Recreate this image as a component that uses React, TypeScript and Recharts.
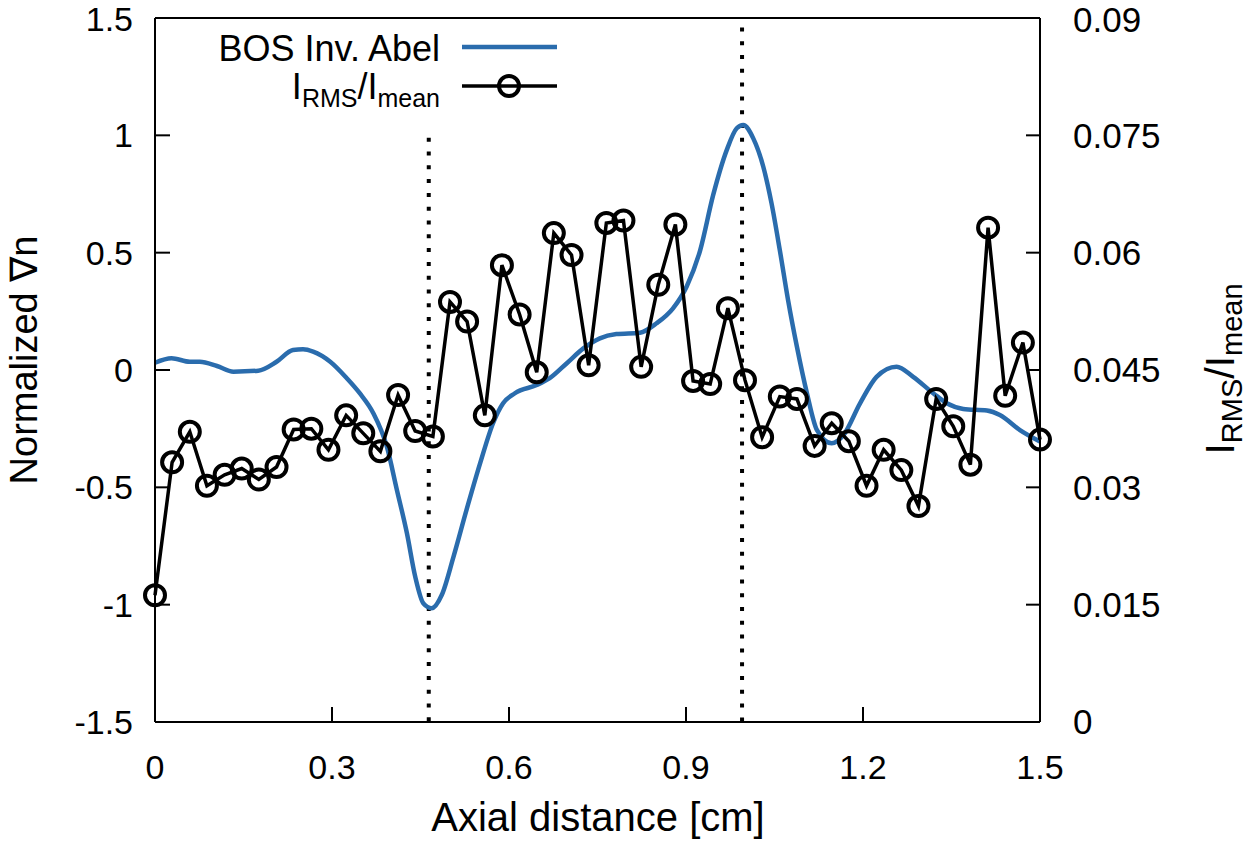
import { LineChart, Line, XAxis, YAxis, ReferenceLine } from "recharts";

const FONT = '"Liberation Sans", Arial, Helvetica, sans-serif';
const BLUE = "#2a6cad";
const W = 1251;
const H = 843;

// axis ticks
const X_TICKS = [0, 0.3, 0.6, 0.9, 1.2, 1.5];
const LEFT_TICKS = [-1.5, -1, -0.5, 0, 0.5, 1, 1.5];
const RIGHT_TICKS = [0, 0.015, 0.03, 0.045, 0.06, 0.075, 0.09];

// BOS inverse Abel profile (normalized gradient)
const BOS_X = [
  0, 0.028, 0.059, 0.076, 0.105, 0.133, 0.175, 0.206, 0.234, 0.251, 0.268,
  0.297, 0.325, 0.347, 0.37, 0.393, 0.41, 0.427, 0.441, 0.455, 0.469, 0.486,
  0.506, 0.528, 0.551, 0.573, 0.59, 0.61, 0.647, 0.669, 0.698, 0.726, 0.754,
  0.782, 0.822, 0.85, 0.878, 0.901, 0.924, 0.946, 0.969, 0.986, 0.997, 1.014,
  1.031, 1.045, 1.059, 1.073, 1.088, 1.105, 1.122, 1.147, 1.167, 1.195, 1.223,
  1.257, 1.285, 1.319, 1.342, 1.37, 1.41, 1.432, 1.466, 1.5,
];
const BOS_Y = [
  0.031, 0.05, 0.035, 0.035, 0.017, -0.007, -0.003, 0.035, 0.085, 0.088, 0.078,
  0.035, -0.035, -0.099, -0.184, -0.327, -0.511, -0.696, -0.88, -0.995, -1.015,
  -0.959, -0.795, -0.596, -0.398, -0.227, -0.142, -0.099, -0.064, -0.035, 0.029,
  0.092, 0.135, 0.153, 0.159, 0.199, 0.263, 0.355, 0.51, 0.745, 0.937, 1.03,
  1.044, 0.987, 0.866, 0.71, 0.511, 0.298, 0.099, -0.099, -0.256, -0.312,
  -0.277, -0.142, -0.029, 0.014, -0.029, -0.099, -0.142, -0.166, -0.173, -0.192,
  -0.256, -0.305,
];

// intensity fluctuation I_RMS / I_mean
const IRMS_X = [
  0, 0.029, 0.059, 0.088, 0.118, 0.147, 0.176, 0.206, 0.235, 0.265, 0.294,
  0.324, 0.353, 0.382, 0.412, 0.441, 0.471, 0.5, 0.529, 0.559, 0.588, 0.618,
  0.647, 0.676, 0.706, 0.735, 0.765, 0.794, 0.824, 0.853, 0.882, 0.912, 0.941,
  0.971, 1.0, 1.029, 1.059, 1.088, 1.118, 1.147, 1.176, 1.206, 1.235, 1.265,
  1.294, 1.324, 1.353, 1.382, 1.412, 1.441, 1.471, 1.5,
];
const IRMS_Y = [
  0.0162, 0.0332, 0.0371, 0.0302, 0.0316, 0.0324, 0.031, 0.0326, 0.0374, 0.0375,
  0.0348, 0.0392, 0.0369, 0.0346, 0.0418, 0.0372, 0.0365, 0.0537, 0.0512,
  0.0392, 0.0584, 0.0521, 0.0447, 0.0625, 0.0597, 0.0456, 0.0638, 0.0641,
  0.0454, 0.0559, 0.0636, 0.0436, 0.0432, 0.0529, 0.0437, 0.0364, 0.0416,
  0.0413, 0.0353, 0.0382, 0.0359, 0.0302, 0.0348, 0.0322, 0.0276, 0.0413,
  0.0378, 0.0329, 0.0632, 0.0417, 0.0485, 0.0361,
];

// vertical markers: [x, top y, bottom y] on the left scale
const MARKERS = [
  [0.464, 0.99, -1.5],
  [0.995, 1.46, -1.5],
];

const bosData = BOS_X.map((x, i) => ({ x, y: BOS_Y[i] }));
const irmsData = IRMS_X.map((x, i) => ({ x, y: IRMS_Y[i] }));

const AXIS = { stroke: "#000", strokeWidth: 2 };
const tickStyle = (size: number) => ({ fontSize: size, fill: "#000", fontFamily: FONT });

const BottomTitle = () => (
  <text x={598} y={831} textAnchor="middle" fontSize={40} fontFamily={FONT} fill="#000">
    Axial distance [cm]
  </text>
);

const LeftTitle = () => (
  <text
    transform="translate(37,360) rotate(-90)"
    textAnchor="middle"
    fontSize={38}
    fontFamily={FONT}
    fill="#000"
  >
    Normalized ∇n
  </text>
);

const RightTitle = () => (
  <text
    transform="translate(1234,369) rotate(-90)"
    textAnchor="middle"
    fontSize={41}
    fontFamily={FONT}
    fill="#000"
  >
    <tspan>I</tspan>
    <tspan fontSize={29} dy={8}>RMS</tspan>
    <tspan dy={-8}>/I</tspan>
    <tspan fontSize={29} dy={8}>mean</tspan>
  </text>
);

function LegendBox() {
  return (
    <svg
      width={W}
      height={H}
      style={{ position: "absolute", left: 0, top: 0, pointerEvents: "none" }}
    >
      <g fontFamily={FONT} fill="#000" fontSize={36} textAnchor="end">
        <text x={440} y={61}>BOS Inv. Abel</text>
        <text x={440} y={99}>
          <tspan>I</tspan>
          <tspan fontSize={25} dy={8}>RMS</tspan>
          <tspan dy={-8}>/I</tspan>
          <tspan fontSize={25} dy={8}>mean</tspan>
        </text>
      </g>
      <line x1={462} x2={557} y1={47} y2={47} stroke={BLUE} strokeWidth={4.5} />
      <line x1={462} x2={557} y1={86} y2={86} stroke="#000" strokeWidth={3.5} />
      <circle cx={509} cy={86} r={10} fill="none" stroke="#000" strokeWidth={4} />
    </svg>
  );
}

export default function App() {
  return (
    <div style={{ position: "absolute", left: 0, top: 0, width: W, height: H, background: "#fff" }}>
      <LineChart width={W} height={H} margin={{ top: 0, right: 0, bottom: 0, left: 0 }}>
        <XAxis
          xAxisId="bottom"
          type="number"
          dataKey="x"
          domain={[0, 1.5]}
          ticks={X_TICKS}
          height={121}
          tickSize={-15}
          tickMargin={48}
          axisLine={AXIS}
          tickLine={AXIS}
          tick={tickStyle(34)}
          label={<BottomTitle />}
        />
        <XAxis
          xAxisId="top"
          orientation="top"
          type="number"
          dataKey="x"
          domain={[0, 1.5]}
          ticks={X_TICKS}
          height={18}
          tickSize={-15}
          axisLine={AXIS}
          tickLine={AXIS}
          tickFormatter={() => ""}
        />
        <YAxis
          yAxisId="left"
          type="number"
          domain={[-1.5, 1.5]}
          ticks={LEFT_TICKS}
          width={155}
          tickSize={-15}
          tickMargin={37}
          axisLine={AXIS}
          tickLine={AXIS}
          tick={tickStyle(34)}
          label={<LeftTitle />}
        />
        <YAxis
          yAxisId="right"
          orientation="right"
          type="number"
          domain={[0, 0.09]}
          ticks={RIGHT_TICKS}
          width={211}
          tickSize={-14}
          tickMargin={47}
          axisLine={AXIS}
          tickLine={AXIS}
          tick={tickStyle(35)}
          label={<RightTitle />}
        />
        {MARKERS.map(([x, top, bottom]) => (
          <ReferenceLine
            key={x}
            xAxisId="bottom"
            yAxisId="left"
            segment={[
              { x, y: top },
              { x, y: bottom },
            ]}
            stroke="#000"
            strokeWidth={4}
            strokeDasharray="4 9.8"
          />
        ))}
        <Line
          xAxisId="bottom"
          yAxisId="left"
          data={bosData}
          dataKey="y"
          type="monotone"
          stroke={BLUE}
          strokeWidth={4.5}
          dot={false}
          isAnimationActive={false}
        />
        <Line
          xAxisId="bottom"
          yAxisId="right"
          data={irmsData}
          dataKey="y"
          type="linear"
          stroke="#000"
          strokeWidth={3.5}
          dot={{ r: 10, fill: "none", stroke: "#000", strokeWidth: 4 }}
          isAnimationActive={false}
        />
      </LineChart>
      <LegendBox />
    </div>
  );
}
